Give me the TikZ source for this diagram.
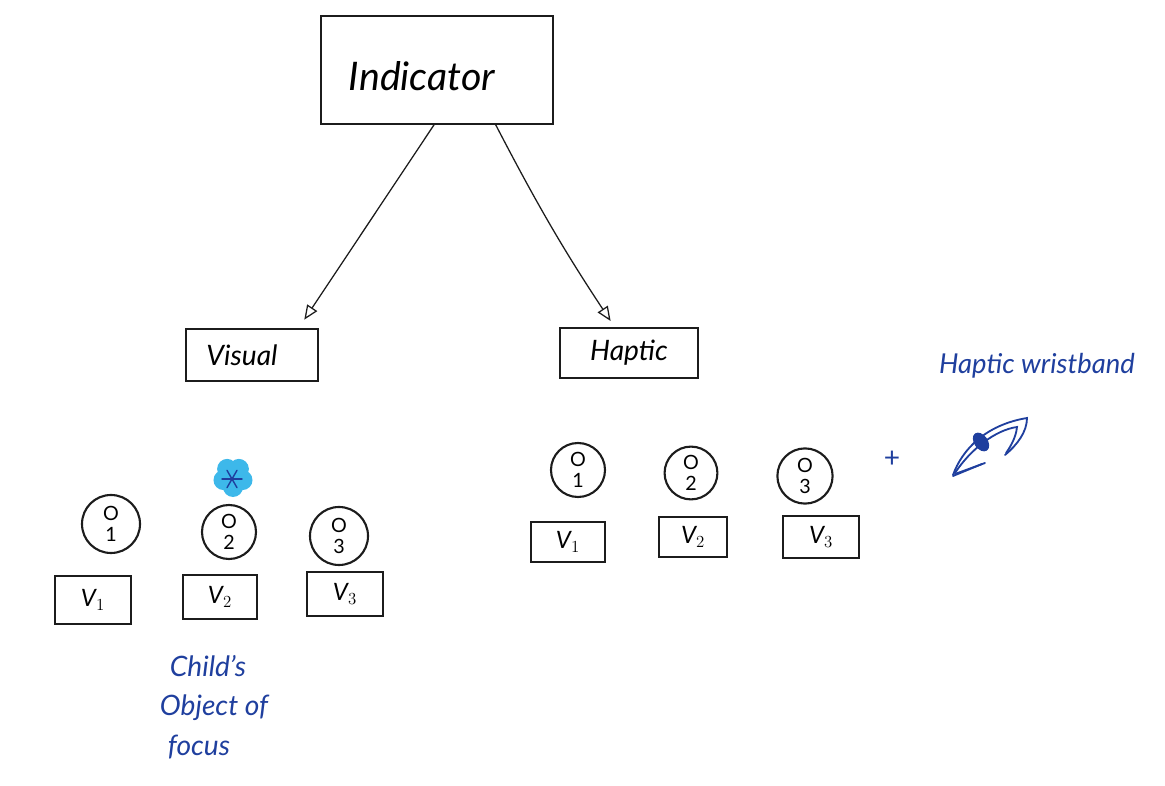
\documentclass[tikz,border=0pt]{standalone}
\usepackage{fontspec}
\setmainfont{Lato}
\usepackage{xcolor}
\usetikzlibrary{arrows.meta, positioning, calc}
\definecolor{PenBlack}{HTML}{1C1C1C}
\definecolor{PenBlue}{HTML}{1F3F9E}
\definecolor{MarkerCyan}{HTML}{3DB8EA}
\tikzset{
    % Main box
    rootbox/.style={rectangle, draw=PenBlack, line width=1.5pt, font=\fontsize{28}{28}\selectfont\itshape,
        minimum width=5.78cm, minimum height=2.68cm},
    % Modality box
    modebox/.style={rectangle, draw=PenBlack, line width=1.4pt, font=\fontsize{20}{20}\selectfont\itshape,
        minimum height=1.3cm},
    % Object circle
    objcircle/.style={circle, draw=PenBlack, line width=1.5pt, inner sep=0pt, align=center,
        font=\fontsize{14}{15}\selectfont},
    % Variant box
    varbox/.style={rectangle, draw=PenBlack, line width=1.4pt, minimum height=1.1cm,
        font=\fontsize{17}{17}\selectfont\itshape},
    % Handwritten note
    note/.style={text=PenBlue, font=\fontsize{20}{28}\selectfont\itshape, align=center, inner sep=0pt},
    % Connection line
    linkarrow/.style={-{Triangle[open, length=3.6mm, width=3mm]}, line width=0.9pt, PenBlack},
    % Wristband pen
    bandline/.style={PenBlue, line width=1.3pt, line cap=round},
}
\begin{document}
\begin{tikzpicture}[x=0.025cm, y=-0.025cm]
    \useasboundingbox (0,0) rectangle (1165,786);
    % top of the tree
    \node[rootbox, text height=0.75cm] (indicator) at (437,70) {\hspace*{-0.75cm}\raisebox{-0.3cm}{Indicator}};
    \node[modebox, minimum width=3.28cm] (visual) at (252,355) {\hspace*{-0.5cm}Visual};
    \node[modebox, minimum width=3.45cm, minimum height=1.25cm] (haptic) at (629,353) {Haptic};
    \draw[linkarrow, shorten >=0.25cm] (indicator.-93) -- (visual.30);
    \draw[linkarrow, shorten >=0.18cm] (indicator.-43) to[bend right=3] (haptic.119);
    % visual objects
    \node[objcircle, minimum size=1.45cm] (vobja) at (111,524) {O\\1};
    \node[objcircle, minimum size=1.35cm] (vobjb) at (229,532) {O\\2};
    \node[objcircle, minimum size=1.45cm] (vobjc) at (339,536) {O\\3};
    \node[varbox, minimum width=1.92cm, minimum height=1.18cm] (vvara) at (93,600) {V$_1$};
    \node[varbox, minimum width=1.85cm, minimum height=1.12cm] (vvarb) at (220,597) {V$_2$};
    \node[varbox, minimum width=1.92cm, minimum height=1.12cm] (vvarc) at (345,594) {V$_3$};
    % focus marker
    \foreach \a in {18,90,162,234,306}
        \fill[MarkerCyan] (233,477) ++(\a:10) circle (0.25cm);
    \foreach \a in {0,60,120}
        \draw[PenBlue, line width=1pt, line cap=round] (232,479) ++(\a:10) -- ++(\a+180:20);
    \node[note] (focusnote) at (214,707) {Child's\hspace*{0.3cm}\\Object of\\focus\hspace*{0.75cm}};
    % haptic objects
    \node[objcircle, minimum size=1.35cm] (hobja) at (578,470) {O\\1};
    \node[objcircle, minimum size=1.32cm] (hobjb) at (691,473) {O\\2};
    \node[objcircle, minimum size=1.38cm] (hobjc) at (805,476) {O\\3};
    \node[varbox, minimum width=1.85cm, minimum height=1cm] (hvara) at (568,542) {V$_1$};
    \node[varbox, minimum width=1.7cm, minimum height=0.98cm] (hvarb) at (693,537) {V$_2$};
    \node[varbox, minimum width=1.88cm, minimum height=1.05cm] (hvarc) at (821,537) {V$_3$};
    % wristband
    \node[text=PenBlue, font=\fontsize{20}{20}\selectfont, inner sep=0pt] (plus) at (892,459) {+};
    \node[note, font=\fontsize{19.5}{24}\selectfont\itshape] (bandnote) at (1037,366) {Haptic wristband};
    \draw[bandline] (953,475) .. controls (962,450) and (985,425) .. (1027,418)
        .. controls (1027,432) and (1017,445) .. (1005,455);
    \draw[bandline] (955,473) .. controls (970,450) and (995,430) .. (1017,427)
        .. controls (1016,437) and (1011,446) .. (1006,453);
    \draw[bandline] (953,476) -- (982,464);
    \draw[bandline] (955,474) -- (985,463);
    \fill[PenBlue, rotate around={-55:(981,442)}] (981,442) ellipse (0.26cm and 0.17cm);
\end{tikzpicture}
\end{document}
